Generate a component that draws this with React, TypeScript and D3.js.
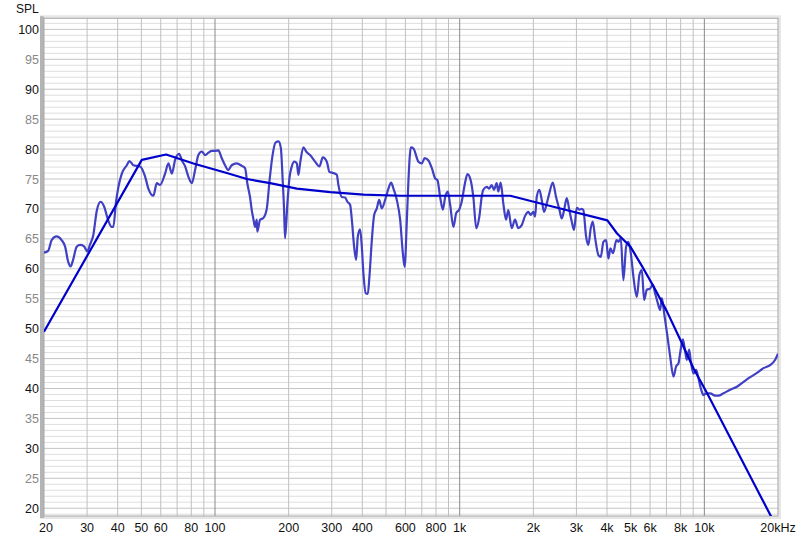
import React from "react";
import * as d3 from "d3";

// ---- Data ----
const measFreq = [
  20, 20.8, 21.5, 22.5, 23.6, 24.4, 25.1, 25.7, 26.3, 27.2, 28.1, 29.1, 30.1, 30.8, 31.8, 32.9, 34.1, 35.2, 36.6, 37.8,
  38.4, 39.4, 40.3, 41.6, 43.6, 44.7, 46.4, 49.4, 51.8, 53.4, 56.0, 57.8, 59.6, 62.5, 64.5, 66.6, 68.7, 71.3, 73.4, 75.5,
  77.8, 80.4, 82.9, 85.5, 88.3, 91.1, 94.0, 97.0, 100, 103.2, 106.5, 109.9, 113.4, 117.0, 122.7, 128.6, 132.7, 135.5, 139.0, 141.3,
  143.4, 145.7, 148.1, 148.9, 152.8, 157.6, 162.7, 167.1, 171.9, 176.8, 181.8, 185.8, 189.2, 191.5, 193.3, 197.6, 201.4, 205.9, 211.0, 215.9,
  219.2, 222.7, 229.7, 235.7, 244.7, 256.4, 267.1, 275.8, 286.4, 293.4, 304.6, 314.6, 319.4, 329.8, 340.2, 347.6, 356.6, 362.4, 370.3, 377.3,
  383.4, 391.7, 398.1, 404.2, 413.4, 421.2, 427.7, 437.5, 447.1, 458.5, 468.6, 480.6, 495.8, 511.5, 524.6, 536.1, 553.5, 571.0, 585.7, 595.8,
  608.3, 617.5, 631.6, 647.2, 678.3, 700.3, 719.4, 745.5, 769.7, 794.0, 811.3, 832.1, 853.7, 872.4, 894.5, 914.1, 943.0, 967.6, 996, 1019,
  1051, 1076, 1109, 1137, 1169, 1203, 1230, 1249, 1290, 1321, 1351, 1381, 1417, 1438, 1471, 1508, 1547, 1580, 1632, 1683,
  1736, 1793, 1849, 1908, 1951, 2000, 2032, 2065, 2116, 2165, 2212, 2269, 2325, 2401, 2477, 2556, 2614, 2671, 2739, 2807,
  2871, 2934, 3009, 3084, 3155, 3203, 3286, 3357, 3434, 3500, 3576, 3689, 3773, 3867, 3967, 4054, 4131, 4236, 4371, 4454,
  4555, 4668, 4789, 4894, 5005, 5129, 5296, 5428, 5552, 5674, 5819, 6003, 6158, 6292, 6430, 6596, 6703, 6850, 7066, 7246,
  7475, 7669, 7837, 7962, 8168, 8346, 8480, 8666, 8807, 9024, 9258, 9460, 9676, 9916, 10238, 10562, 11070, 11420, 11969, 12752,
  13579, 14454, 15392, 16397, 17447, 18581, 19478, 20000,
];
const measSpl = [
  62.7, 63.0, 64.8, 65.4, 64.8, 63.7, 61.2, 60.4, 61.5, 63.7, 64.0, 63.8, 62.9, 64.0, 65.6, 69.8, 71.2, 70.4, 68.1, 67.0,
  67.0, 71.2, 73.7, 75.9, 77.3, 78.0, 77.3, 77.1, 75.4, 73.4, 72.2, 74.3, 74.0, 75.9, 77.6, 75.9, 78.2, 79.2, 78.0, 77.1,
  75.4, 74.3, 76.5, 79.0, 79.6, 79.0, 79.4, 79.7, 79.7, 79.8, 78.5, 77.3, 76.5, 77.3, 77.6, 77.2, 76.8, 74.3, 72.0, 69.8,
  68.4, 67.0, 68.2, 66.2, 68.2, 68.5, 70.0, 74.8, 79.0, 81.1, 81.3, 80.2, 74.5, 70.0, 65.1, 70.9, 75.1, 77.1, 77.9, 77.6,
  75.7, 77.6, 80.3, 79.6, 79.0, 77.9, 77.1, 78.6, 77.9, 76.2, 76.0, 75.7, 74.0, 72.0, 71.9, 71.2, 70.7, 68.2, 63.7, 61.5,
  65.4, 66.6, 63.7, 59.2, 55.9, 55.8, 58.7, 64.8, 69.0, 70.1, 71.5, 70.1, 71.5, 73.4, 74.4, 73.4, 71.5, 68.2, 62.6, 60.3,
  68.2, 74.8, 80.3, 80.1, 77.9, 77.6, 78.5, 78.1, 76.8, 75.1, 74.8, 72.0, 69.9, 72.0, 72.9, 70.7, 67.0, 69.3, 69.9, 71.2,
  74.3, 75.8, 74.8, 72.0, 66.8, 68.7, 72.0, 73.2, 73.7, 73.4, 74.0, 73.2, 74.3, 72.9, 74.4, 70.9, 68.2, 69.8, 66.8, 68.2,
  66.8, 67.3, 68.8, 69.5, 69.0, 69.5, 68.7, 72.0, 73.2, 71.5, 69.5, 70.9, 72.6, 74.4, 72.0, 69.9, 68.4, 69.8, 71.8, 69.8,
  67.9, 66.5, 70.2, 69.9, 70.0, 69.8, 65.4, 64.0, 66.8, 67.9, 65.2, 62.3, 62.0, 64.5, 64.8, 61.7, 63.4, 62.6, 64.8, 64.5,
  65.1, 58.1, 63.7, 64.5, 62.6, 58.7, 55.3, 59.0, 59.8, 54.8, 56.5, 56.7, 57.3, 55.9, 54.5, 53.1, 55.1, 52.6, 48.7, 45.4,
  42.0, 43.7, 44.2, 45.9, 48.2, 46.2, 44.8, 46.5, 44.5, 42.5, 43.1, 41.7, 40.0, 38.9, 39.2, 39.2, 38.8, 38.8, 39.2, 39.8,
  40.3, 41.1, 41.9, 42.6, 43.4, 43.9, 44.8, 45.8,
];

const targetFreq = [20, 50.2, 63.1, 81.6, 111.7, 134.9, 168, 216, 296, 405, 572, 1610, 2348, 4016, 4398, 4985, 5568, 6210, 7046, 7982, 9048, 10266, 20000];
const targetSpl = [49.5, 78.2, 79.1, 77.6, 76.0, 75.0, 74.3, 73.4, 72.8, 72.4, 72.2, 72.2, 70.5, 68.1, 65.9, 63.7, 60.4, 57.0, 52.8, 48.1, 43.3, 39.2, 16.4];

const xTickValues = [20, 30, 40, 50, 60, 80, 100, 200, 300, 400, 600, 800, 1000, 2000, 3000, 4000, 5000, 6000, 8000, 10000, 20000];
const xTickLabels = ["20", "30", "40", "50", "60", "80", "100", "200", "300", "400", "600", "800", "1k", "2k", "3k", "4k", "5k", "6k", "8k", "10k", "20kHz"];
const yTickValues = [20, 25, 30, 35, 40, 45, 50, 55, 60, 65, 70, 75, 80, 85, 90, 95, 100];
const yAxisTitle = "SPL";

// ---- Layout ----
const W = 800, H = 540;
const L = 44, R = 778, T = 18.3, B = 516;

export default function App() {
  const x = d3.scaleLog().domain([20, 20000]).range([L, R]);
  const y = d3.scaleLinear().domain([18.7, 101.85]).range([B, T]);

  const meas = measFreq.map((f, i) => [f, measSpl[i]] as [number, number]);
  const targ = targetFreq.map((f, i) => [f, targetSpl[i]] as [number, number]);
  const line = d3.line<[number, number]>().x((d) => x(d[0])).y((d) => y(d[1]));
  const lineSmooth = d3.line<[number, number]>().x((d) => x(d[0])).y((d) => y(d[1])).curve(d3.curveMonotoneX);

  const minorV: number[] = [];
  const majorV: number[] = [100, 1000, 10000];
  [10, 100, 1000, 10000].forEach((dec) => {
    for (let k = 2; k <= 9; k++) {
      const v = dec * k;
      if (v > 20 && v < 20000) minorV.push(v);
    }
  });
  const hLines: number[] = [];
  for (let v = 19; v <= 101; v++) hLines.push(v);

  return (
    <svg width={W} height={H} style={{ position: "absolute", left: 0, top: 0, background: "#fff" }} fontFamily="'Liberation Sans', Arial, sans-serif">
      <defs>
        <clipPath id="plotclip">
          <rect x={L} y={T} width={R - L} height={B - T} />
        </clipPath>
      </defs>
      {/* frame shadows */}
      <rect x={L - 4} y={T - 3} width={R - L + 7} height={B - T + 6} fill="#e6e6e6" />
      <rect x={L - 4} y={T - 2} width={4} height={B - T + 4} fill="#b4b4b4" />
      <rect x={L} y={T} width={R - L} height={B - T} fill="#fff" />
      {/* horizontal grid */}
      {hLines.map((v) => (
        <line key={"h" + v} x1={L} x2={R} y1={y(v)} y2={y(v)} stroke={v % 5 === 0 ? "#c4c4c4" : "#dedede"} strokeWidth={1} />
      ))}
      {/* vertical grid */}
      {minorV.map((v) => (
        <line key={"v" + v} x1={x(v)} x2={x(v)} y1={T} y2={B} stroke="#c0c0c0" strokeWidth={1} />
      ))}
      {majorV.map((v) => (
        <line key={"V" + v} x1={x(v)} x2={x(v)} y1={T} y2={B} stroke="#8a8a8a" strokeWidth={1} />
      ))}
      <rect x={L} y={T} width={R - L} height={B - T} fill="none" stroke="#a8a8a8" strokeWidth={1} />
      {/* curves */}
      <g clipPath="url(#plotclip)">
        <path d={lineSmooth(meas) || ""} fill="none" stroke="#4040c4" strokeWidth={2.2} strokeLinejoin="round" />
        <path d={line(targ) || ""} fill="none" stroke="#0000cc" strokeWidth={2.2} strokeLinejoin="round" />
      </g>
      {/* y labels */}
      {yTickValues.map((v) => (
        <text key={"yl" + v} x={39} y={y(v) + 4.5} fontSize={12.5} textAnchor="end" fill={v % 10 === 0 ? "#111" : "#888"}>
          {v}
        </text>
      ))}
      <text x={16} y={13} fontSize={12} fill="#111">{yAxisTitle}</text>
      {/* x labels */}
      {xTickValues.map((v, i) => (
        <text key={"xl" + v} x={x(v) + (i === 0 ? 2 : 0)} y={532} fontSize={12.5} textAnchor="middle" fill="#111">
          {xTickLabels[i]}
        </text>
      ))}
    </svg>
  );
}
